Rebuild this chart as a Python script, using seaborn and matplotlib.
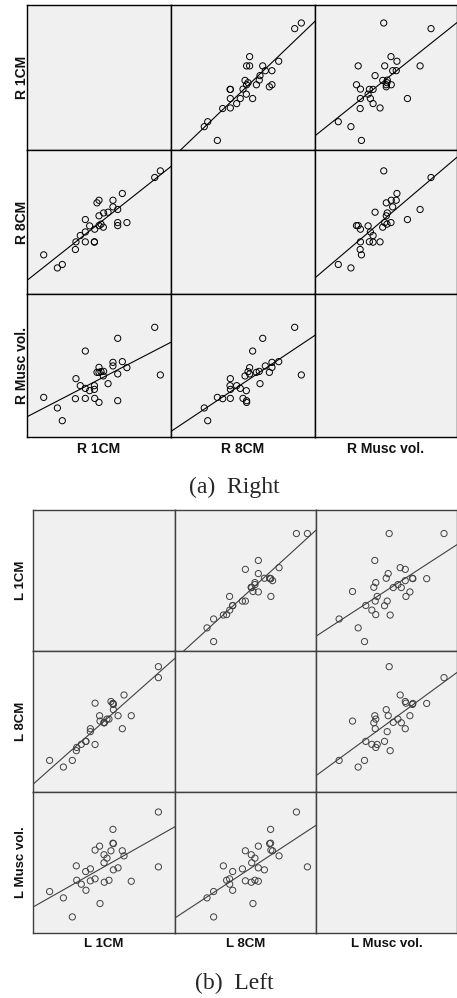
import matplotlib
matplotlib.use("Agg")
import matplotlib.pyplot as plt
import seaborn as sns
import pandas as pd

# values, relative units (0-100 of the cell)
right_names = ["R 1CM", "R 8CM", "R Musc vol."]
left_names = ["L 1CM", "L 8CM", "L Musc vol."]

r_1cm = [11.6, 21.1, 24.5, 33.6, 34.0, 37.0, 40.5, 40.5, 40.5, 43.5,
         46.8, 46.8, 47.0, 48.6, 50.0, 50.0, 50.0, 51.4, 53.0, 53.2,
         56.3, 59.7, 59.7, 63.0, 63.0, 63.0, 66.2, 69.4, 88.7, 92.6]
r_8cm = [32.2, 23.1, 25.5, 35.9, 41.2, 45.6, 41.2, 48.1, 56.7, 52.3,
         41.0, 41.3, 50.0, 68.3, 70.1, 59.3, 52.5, 53.5, 51.4, 61.3,
         61.8, 70.1, 65.5, 63.7, 54.6, 52.5, 74.8, 54.6, 85.9, 90.5]
r_musc = [32.7, 25.3, 16.4, 31.8, 45.8, 40.9, 32.0, 39.0, 65.1, 37.4,
          40.9, 38.3, 32.0, 50.2, 53.7, 50.2, 29.2, 50.7, 47.7, 50.9,
          42.3, 57.2, 54.7, 74.0, 49.1, 30.4, 57.7, 53.5, 81.7, 48.4]

l_1cm = [11.7, 21.4, 27.7, 30.5, 30.8, 34.0, 37.1, 37.3, 40.4, 40.4,
         43.7, 43.7, 46.9, 47.2, 50.0, 50.0, 50.2, 52.1, 53.5, 54.9,
         56.3, 56.3, 56.6, 56.6, 59.9, 62.9, 64.1, 69.2, 88.3, 88.3]
l_8cm = [27.4, 22.7, 27.4, 34.3, 36.6, 38.8, 40.9, 40.9, 47.8, 49.9,
         68.0, 38.7, 59.1, 55.3, 54.1, 54.4, 54.1, 56.7, 56.7, 69.2,
         67.8, 67.8, 67.1, 63.4, 59.1, 49.9, 73.8, 59.1, 86.1, 93.9]
l_musc = [34.4, 29.9, 16.4, 52.6, 42.4, 39.6, 48.6, 35.3, 50.5, 42.0,
          63.8, 43.4, 66.6, 25.9, 60.5, 54.8, 41.0, 58.1, 42.4, 63.3,
          78.5, 68.7, 68.4, 49.8, 51.2, 63.3, 59.7, 41.7, 90.8, 51.9]

right = pd.DataFrame({right_names[0]: r_1cm, right_names[1]: r_8cm, right_names[2]: r_musc})
left = pd.DataFrame({left_names[0]: l_1cm, left_names[1]: l_8cm, left_names[2]: l_musc})

sns.set_style("white")
plt.rcParams["font.family"] = ["Liberation Sans", "DejaVu Sans"]

W, H = 457, 998
fig = plt.figure(figsize=(W / 100, H / 100), dpi=100)


def draw_matrix(df, names, xs, ys, col, lab_size, row_lab_x, col_lab_y):
    for i, yname in enumerate(names):
        for j, xname in enumerate(names):
            ax = fig.add_axes([xs[j] / W, 1 - ys[i + 1] / H,
                               (xs[j + 1] - xs[j]) / W, (ys[i + 1] - ys[i]) / H])
            ax.set_facecolor("#f0f0f0")
            ax.set_xlim(0, 100)
            ax.set_ylim(5, 105)
            if i != j:
                sns.regplot(data=df, x=xname, y=yname, ax=ax, ci=None, truncate=False,
                            scatter_kws={"s": 20, "facecolors": "none", "edgecolors": col,
                                         "linewidths": 0.7, "alpha": 1},
                            line_kws={"color": col, "lw": 0.8})
                ax.set_xlim(0, 100)
                ax.set_ylim(5, 105)
            ax.set_xticks([])
            ax.set_yticks([])
            ax.set_xlabel("")
            ax.set_ylabel("")
            for s in ax.spines.values():
                s.set_color(col)
                s.set_linewidth(1.0)
        # row label
        fig.text(row_lab_x / W, 1 - (ys[i] + ys[i + 1]) / 2 / H, yname, rotation=90,
                 ha="center", va="center", fontweight="bold", fontsize=lab_size, color="#111111")
    for j, xname in enumerate(names):
        fig.text((xs[j] + xs[j + 1]) / 2 / W, 1 - col_lab_y / H, xname,
                 ha="center", va="center", fontweight="bold", fontsize=lab_size, color="#111111")


draw_matrix(right, right_names, [27, 171, 315, 457], [5, 150, 294, 437], "black", 10, 22, 449)
draw_matrix(left, left_names, [33, 175, 316, 457], [510, 651, 792, 933], "#404040", 9.5, 21, 944)

fig.text(234 / W, 1 - 493 / H, "(a)  Right", family="Liberation Serif", fontsize=17,
         ha="center", va="baseline")
fig.text(234 / W, 1 - 989 / H, "(b)  Left", family="Liberation Serif", fontsize=17,
         ha="center", va="baseline")

fig.savefig("out.png", dpi=100)
